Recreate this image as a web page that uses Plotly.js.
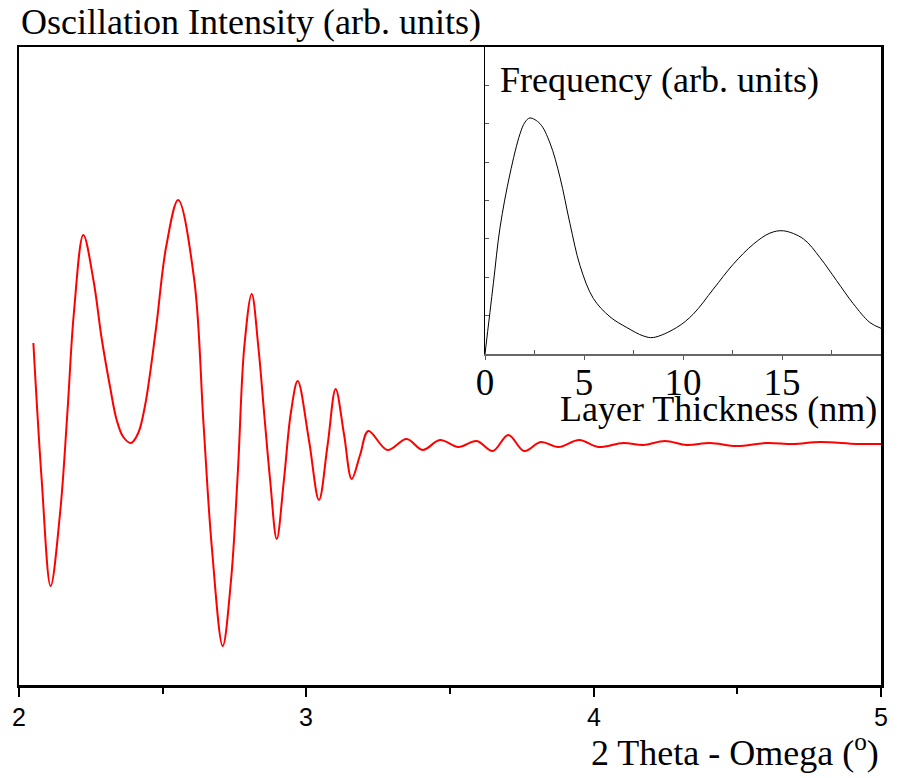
<!DOCTYPE html>
<html>
<head>
<meta charset="utf-8">
<script src="https://cdn.plot.ly/plotly-3.0.1.min.js"></script>
<style>html,body{margin:0;padding:0;background:#fff;}#chart{width:897px;height:778px;}</style>
</head>
<body>
<div id="chart"></div>
<script>
// Main curve: 2Theta-Omega (deg) vs oscillation intensity (arb. units)
const twoTheta = [2.050,2.079,2.110,2.143,2.169,2.191,2.224,2.259,2.288,2.317,2.340,2.363,2.390,2.415,2.439,2.477,2.512,2.554,2.610,2.642,2.671,2.709,2.738,2.762,2.784,2.810,2.833,2.854,2.874,2.897,2.922,2.946,2.970,3.009,3.044,3.074,3.102,3.131,3.158,3.187,3.216,3.282,3.349,3.405,3.465,3.529,3.593,3.649,3.703,3.758,3.816,3.877,3.950,4.016,4.103,4.173,4.248,4.324,4.405,4.498,4.602,4.695,4.788,4.916,5.000];
const intensity = [1.00,-0.37,-1.43,-0.70,0.33,1.30,2.08,1.63,1.04,0.56,0.23,0.06,0.00,0.10,0.38,1.15,1.96,2.43,1.63,0.20,-1.04,-2.03,-1.37,-0.27,0.96,1.49,0.96,0.27,-0.37,-0.96,-0.37,0.30,0.62,0.03,-0.57,-0.02,0.54,0.09,-0.36,-0.12,0.12,-0.07,0.04,-0.07,0.03,-0.04,0.02,-0.08,0.08,-0.08,0.01,-0.04,0.03,-0.04,0.00,-0.02,0.02,-0.02,0.00,-0.03,0.00,-0.01,0.01,-0.01,-0.01];

// Inset: layer thickness (nm) vs frequency (arb. units)
const thickness = [0,0.42,0.76,1.26,1.77,2.02,2.27,2.78,3.28,3.79,4.29,4.8,5.47,6.31,7.16,8.0,8.5,9.68,10.52,11.53,12.54,13.55,14.39,15.07,16.08,16.92,17.76,18.6,19.44,20];
const frequency = [0,1.83,3.3,4.69,5.74,6.04,6.15,6.0,5.5,4.6,3.4,2.3,1.45,0.97,0.69,0.47,0.43,0.69,1.04,1.69,2.34,2.86,3.15,3.21,3.0,2.51,1.91,1.31,0.82,0.67];

const insetTicks = [0,5,10,15];
const insetTickText = ['0','5','10','15'];
const mainTicks = [2,3,4,5];
const mainTickText = ['2','3','4','5'];

const serif = 'Liberation Serif';
const narrow = 'Liberation Sans Narrow, Liberation Sans';

const traces = [
  {x: twoTheta, y: intensity, type: 'scatter', mode: 'lines',
   line: {color: '#ff0000', width: 2, shape: 'spline', smoothing: 1}, xaxis: 'x', yaxis: 'y', hoverinfo: 'none'},
  {x: thickness, y: frequency, type: 'scatter', mode: 'lines',
   line: {color: '#000000', width: 1, shape: 'spline', smoothing: 1}, xaxis: 'x2', yaxis: 'y2', hoverinfo: 'none'}
];

const L = 19, R = 881, T = 47, B = 685;
const W = R - L, H = B - T;
const px = v => (v - L) / W;
const py = v => (B - v) / H;

// main x tick labels placed on the x scale
const mainTickAnnots = mainTicks.map((v, i) => ({
  text: mainTickText[i], xref: 'x', yref: 'paper', x: v, y: py(717),
  xanchor: 'center', yanchor: 'middle', showarrow: false,
  font: {family: narrow, size: 25, color: '#000'}
}));

const layout = {
  width: 897, height: 778,
  margin: {l: L, r: 897 - R, t: T, b: 778 - B, pad: 0},
  paper_bgcolor: '#ffffff', plot_bgcolor: '#ffffff',
  showlegend: false,
  xaxis: {
    domain: [0, 1], range: [2, 5], tickvals: mainTicks, showticklabels: false,
    ticks: 'outside', ticklen: 9, tickwidth: 2, tickcolor: '#000',
    minor: {dtick: 0.5, tick0: 2, ticks: 'outside', ticklen: 6, tickwidth: 2, tickcolor: '#000'},
    showline: true, linecolor: '#000', linewidth: 2.5, mirror: true,
    showgrid: false, zeroline: false
  },
  yaxis: {
    domain: [0, 1], range: [-2.42, 3.96],
    showticklabels: false, ticks: '',
    showline: true, linecolor: '#000', linewidth: 2.5, mirror: true,
    showgrid: false, zeroline: false
  },
  xaxis2: {
    domain: [px(485), 1], range: [0, 20], anchor: 'y2',
    tickvals: insetTicks, ticktext: insetTickText,
    ticks: 'outside', ticklen: 4, tickwidth: 1, tickcolor: '#555',
    minor: {tickvals: [2.5,7.5,12.5,17.5], ticks: 'inside', ticklen: 4, tickwidth: 1, tickcolor: '#555'},
    showline: true, linecolor: '#666', linewidth: 1.5, mirror: false,
    showgrid: false, zeroline: false,
    ticklabelstandoff: -9,
    tickfont: {family: serif, size: 37, color: '#000'}
  },
  yaxis2: {
    domain: [py(354), 1], range: [0, 8], anchor: 'x2',
    dtick: 1, ticks: 'inside', ticklen: 4, tickwidth: 1, tickcolor: '#555',
    showticklabels: false,
    showline: true, linecolor: '#000', linewidth: 1, mirror: false,
    showgrid: false, zeroline: false
  },
  annotations: mainTickAnnots.concat([
    {text: 'Oscillation Intensity (arb. units)', xref: 'paper', yref: 'paper',
     x: px(19), y: py(22), xanchor: 'left', yanchor: 'middle', showarrow: false,
     font: {family: serif, size: 36, color: '#000'}},
    {text: '2 Theta - Omega (<sup>o</sup>)', xref: 'paper', yref: 'paper',
     x: px(881), y: py(750), xanchor: 'right', yanchor: 'middle', showarrow: false,
     font: {family: serif, size: 36, color: '#000'}},
    {text: 'Frequency (arb. units)', xref: 'paper', yref: 'paper',
     x: px(498), y: py(80), xanchor: 'left', yanchor: 'middle', showarrow: false,
     font: {family: serif, size: 36, color: '#000'}},
    {text: 'Layer Thickness (nm)', xref: 'paper', yref: 'paper',
     x: px(879), y: py(409), xanchor: 'right', yanchor: 'middle', showarrow: false,
     font: {family: serif, size: 36, color: '#000'}}
  ])
};

Plotly.newPlot('chart', traces, layout, {displayModeBar: false, staticPlot: true});
</script>
</body>
</html>
